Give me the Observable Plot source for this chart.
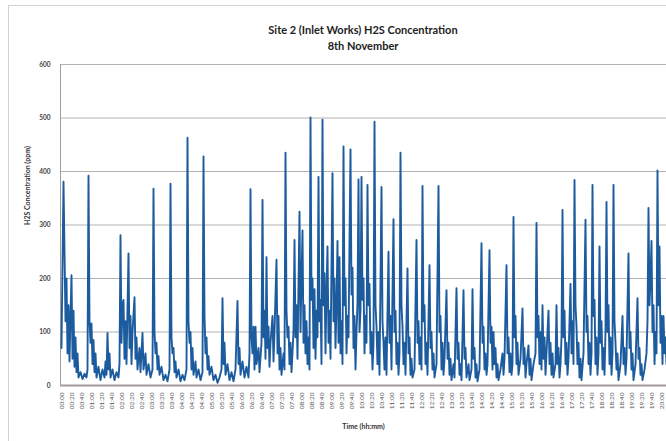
<!DOCTYPE html>
<html>
<head>
<meta charset="utf-8">
<script src="https://cdn.jsdelivr.net/npm/d3@7"></script>
<script src="https://cdn.jsdelivr.net/npm/@observablehq/plot@0.6"></script>
<style>
  html, body { margin: 0; padding: 0; background: #fff; }
  #wrap { position: relative; width: 666px; height: 441px; overflow: hidden; background: #fff; }
  #frame { position: absolute; left: 8px; top: 5px; width: 720px; height: 520px; border: 1px solid #d2d2d2; }
  #title { position: absolute; top: 0; left: 60px; width: 606px; padding-top: 22px;
           text-align: center; font-family: Lato, "Liberation Sans", sans-serif; font-weight: bold;
           font-size: 11px; line-height: 16px; color: #222; }
  #plot { position: absolute; top: 55px; left: 0; }
</style>
</head>
<body>
<div id="wrap">
  <div id="frame"></div>
  <div id="title">Site 2 (Inlet Works) H2S Concentration<br>8th November</div>
  <div id="plot"></div>
</div>
<script>
// Time of each reading (minutes after 00:00) and H2S concentration (ppm)
const times = [0,4,8,10,12,14,16,18,20,22,24,26,28,30,32,34,38,42,46,50,52,54,56,58,60,62,64,66,68,70,74,78,82,86,88,90,92,94,96,98,102,106,110,114,116,118,120,122,124,126,128,130,134,136,138,140,142,146,148,150,152,156,158,162,164,168,170,174,178,182,184,186,188,190,192,194,196,200,204,208,212,216,218,220,222,224,226,228,230,234,238,242,246,250,252,254,256,258,260,262,264,268,270,274,278,282,284,286,288,290,292,294,296,300,304,308,312,316,320,322,324,326,328,332,336,340,344,348,352,354,356,358,362,366,370,374,376,378,380,382,384,386,388,390,394,396,400,402,404,406,408,410,412,414,416,418,422,424,426,430,432,434,436,438,440,444,446,448,450,452,454,456,458,460,464,466,468,470,472,476,478,480,482,484,486,488,490,492,494,496,498,500,502,504,506,508,510,512,514,516,518,520,522,524,526,528,530,532,534,536,538,542,544,546,548,550,552,554,556,558,560,562,564,566,568,570,572,574,578,580,582,584,586,588,590,592,594,596,598,600,602,604,606,608,610,612,614,616,618,620,622,624,626,628,630,632,634,636,640,642,644,646,648,650,654,656,658,660,664,666,668,670,672,674,676,678,680,682,684,686,688,692,694,696,698,700,702,706,710,712,714,716,718,720,722,724,726,728,730,732,736,738,740,742,744,746,750,754,756,758,760,762,764,766,770,772,774,776,778,780,784,786,790,792,794,796,798,800,804,806,808,810,814,816,820,822,824,826,828,830,832,836,840,842,844,846,848,850,852,856,858,860,862,864,866,868,870,872,874,878,882,884,886,890,892,894,896,898,900,902,904,906,908,910,912,914,918,922,924,926,928,930,934,936,938,940,944,948,950,952,954,956,958,960,962,964,966,968,970,974,976,978,980,982,984,988,990,992,994,996,998,1000,1002,1004,1006,1008,1010,1012,1014,1018,1020,1022,1024,1026,1028,1030,1032,1034,1036,1038,1040,1044,1048,1050,1052,1054,1056,1058,1060,1062,1064,1066,1068,1070,1072,1074,1076,1078,1080,1082,1084,1086,1088,1090,1092,1094,1096,1098,1100,1102,1104,1106,1108,1110,1112,1114,1118,1122,1124,1126,1128,1130,1134,1136,1138,1140,1142,1144,1148,1152,1154,1156,1158,1160,1162,1166,1170,1172,1174,1176,1178,1180,1182,1184,1186,1188,1190,1192,1194,1196,1198,1200,1202,1204,1206,1208,1210];
const ppm = [70,381,120,200,60,150,45,130,206,50,140,35,90,25,60,15,25,12,22,15,30,392,120,80,116,40,85,25,60,15,35,10,30,15,45,20,98,30,60,15,30,10,25,15,40,281,80,150,160,50,120,40,247,70,130,40,100,165,50,90,30,70,25,98,30,60,20,40,15,30,368,100,60,80,30,55,20,35,10,20,8,30,377,90,60,70,25,45,15,30,8,20,10,30,463,120,80,100,30,70,20,45,15,30,10,25,428,130,60,90,30,55,20,35,10,20,5,15,30,163,40,80,20,40,10,25,8,30,158,40,70,20,45,15,35,15,60,367,90,60,110,30,110,40,70,25,80,347,90,140,50,240,70,110,35,80,130,45,100,235,60,130,30,70,20,60,30,435,140,90,110,40,80,25,100,272,90,150,50,325,100,200,290,80,150,60,120,40,90,30,501,160,200,70,180,50,140,90,390,120,160,40,497,150,210,60,180,260,80,140,50,397,120,200,70,150,270,80,240,60,120,40,447,150,200,60,130,90,441,170,220,70,130,30,100,155,385,100,140,390,160,200,60,130,80,375,150,190,60,100,30,80,493,150,110,40,100,20,371,120,80,30,90,20,250,80,130,30,311,100,140,40,80,20,60,435,150,110,40,80,20,219,60,90,20,50,15,30,272,80,120,40,90,30,373,120,150,40,80,20,225,70,100,30,60,15,40,373,100,130,30,80,20,50,178,50,80,20,50,10,40,15,182,50,80,20,40,10,178,50,70,15,40,10,30,180,50,70,15,40,8,30,266,80,110,30,60,20,40,253,80,110,30,100,40,70,15,40,10,30,60,20,50,225,60,90,25,60,20,40,315,90,130,40,80,20,50,144,40,70,15,40,75,20,50,10,40,60,304,90,130,40,100,30,150,50,90,20,60,140,40,80,20,60,15,40,150,40,70,15,40,90,328,90,140,40,80,20,50,190,60,120,40,384,150,110,40,80,15,50,10,60,310,100,130,40,80,20,60,375,130,160,40,90,20,60,260,80,120,30,70,20,100,343,100,150,40,90,20,60,375,120,80,30,60,10,40,130,40,70,20,50,247,70,100,30,60,10,40,163,50,70,20,40,10,30,60,120,332,150,200,270,100,150,40,100,60,402,150,260,80,130,40,130,60,90,40];

const yTicks = [0, 100, 200, 300, 400, 500, 600];
const tickLabels = ["00:00","00:20","00:40","01:00","01:20","01:40","02:00","02:20","02:40","03:00","03:20","03:40","04:00","04:20","04:40","05:00","05:20","05:40","06:00","06:20","06:40","07:00","07:20","07:40","08:00","08:20","08:40","09:00","09:20","09:40","10:00","10:20","10:40","11:00","11:20","11:40","12:00","12:20","12:40","13:00","13:20","13:40","14:00","14:20","14:40","15:00","15:20","15:40","16:00","16:20","16:40","17:00","17:20","17:40","18:00","18:20","18:40","19:00","19:20","19:40","20:00"];
const yTitle = "H2S Concentration (ppm)";
const xTitle = "Time (hh:mm)";

const data = times.map((t, i) => ({t, v: ppm[i]}));
const tickMinutes = tickLabels.map(s => +s.slice(0, 2) * 60 + +s.slice(3));
const labelOf = new Map(tickMinutes.map((m, i) => [m, tickLabels[i]]));

const chart = Plot.plot({
  width: 666,
  height: 386,
  marginLeft: 60,
  marginRight: 0,
  marginTop: 9,
  marginBottom: 56,
  style: {fontFamily: "Lato, 'Liberation Sans', sans-serif", background: "transparent", overflow: "visible"},
  x: {domain: [-2, 1210], axis: null},
  y: {domain: [0, 600], axis: null},
  marks: [
    Plot.ruleY(yTicks.filter(d => d > 0), {stroke: "#b2b2b2", strokeWidth: 1}),
    Plot.ruleX([-2], {stroke: "#9c9c9c", strokeWidth: 1}),
    Plot.axisY(yTicks, {tickSize: 0, tickPadding: 10, fontSize: 6.5, fontWeight: "bold", fill: "#444", label: null}),
    Plot.axisX(tickMinutes, {tickFormat: d => labelOf.get(d), tickRotate: -90, tickSize: 0, tickPadding: 7, fontSize: 6.5, fill: "#555", label: null}),
    Plot.line(data, {x: "t", y: "v", stroke: "#1d5b9f", strokeWidth: 1.9, strokeLinejoin: "round"}),
    Plot.ruleY([0], {stroke: "#a59a9a", strokeWidth: 2}),
    Plot.text([yTitle], {frameAnchor: "left", dx: -33, rotate: -90, fontSize: 7, fontWeight: "bold", fill: "#333"}),
    Plot.text([xTitle], {frameAnchor: "bottom", dy: 43, fontSize: 7, fontWeight: "bold", fill: "#333"})
  ]
});
document.getElementById("plot").append(chart);
</script>
</body>
</html>
